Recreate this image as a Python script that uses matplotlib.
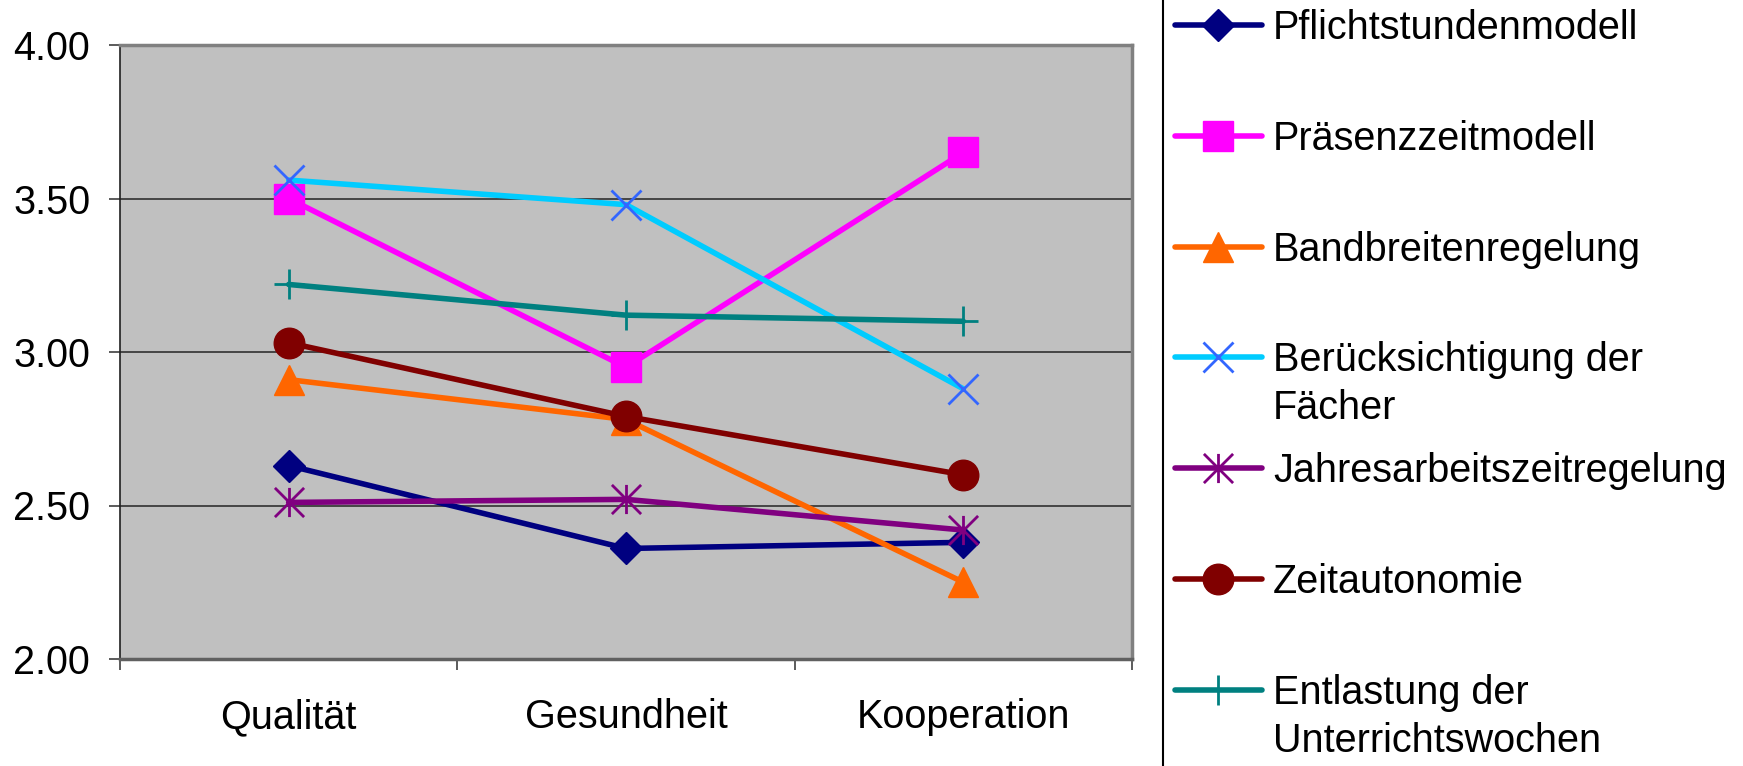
import matplotlib.pyplot as plt, numpy as np
from matplotlib.lines import Line2D
from matplotlib.path import Path
from matplotlib.patches import Rectangle

categories = ["Qualität", "Gesundheit", "Kooperation"]
series_names = ["Pflichtstundenmodell", "Präsenzzeitmodell", "Bandbreitenregelung",
                "Berücksichtigung der\nFächer", "Jahresarbeitszeitregelung",
                "Zeitautonomie", "Entlastung der\nUnterrichtswochen"]
pflicht = [2.63, 2.36, 2.38]
praesenz = [3.50, 2.95, 3.65]
bandbreiten = [2.91, 2.78, 2.25]
faecher = [3.56, 3.48, 2.88]
jahres = [2.51, 2.52, 2.42]
zeitautonomie = [3.03, 2.79, 2.60]
entlastung = [3.22, 3.12, 3.10]
yticks = [2.0, 2.5, 3.0, 3.5, 4.0]

# asterisk marker like the spreadsheet one (x plus vertical bar)
asterisk = Path([(0, -1), (0, 1), (-1, -1), (1, 1), (-1, 1), (1, -1)],
                [Path.MOVETO, Path.LINETO, Path.MOVETO, Path.LINETO, Path.MOVETO, Path.LINETO])

styles = [
    dict(color='#000080', marker='D', ms=16, mfc='#000080', mec='#000080', mew=1),
    dict(color='#FF00FF', marker='s', ms=21, mfc='#FF00FF', mec='#FF00FF', mew=1),
    dict(color='#FF6600', marker='^', ms=22, mfc='#FF6600', mec='#FF6600', mew=1),
    dict(color='#00CCFF', marker='x', ms=21, mfc='none', mec='#3366FF', mew=2),
    dict(color='#800080', marker=asterisk, ms=21, mfc='none', mec='#800080', mew=2),
    dict(color='#800000', marker='o', ms=22, mfc='#800000', mec='#800000', mew=1),
    dict(color='#008080', marker='+', ms=22, mfc='none', mec='#008080', mew=2),
]
data = [pflicht, praesenz, bandbreiten, faecher, jahres, zeitautonomie, entlastung]

W, H = 1743, 766
fig = plt.figure(figsize=(W / 100, H / 100), dpi=100)
plt.rcParams['font.family'] = ['Liberation Sans', 'DejaVu Sans']
fs = 28.5
lw = 4.0
ax = fig.add_axes([120 / W, 1 - 659 / H, (1132 - 120) / W, (659 - 45) / H])
ax.set_facecolor('#C0C0C0')

x = np.arange(len(categories))
for vals, st in zip(data, styles):
    ax.plot(x, vals, lw=lw, solid_capstyle='round', **st)

ax.set_xlim(-0.5, 2.5)
ax.set_ylim(2.0, 4.0)
ax.set_yticks(yticks)
ax.set_yticklabels(["%.2f" % v for v in yticks], fontsize=fs)
ax.yaxis.grid(True, color='#303030', lw=1.2)
ax.set_axisbelow(True)
ax.tick_params(axis='y', length=8, width=1.2, pad=13.5, color='#404040')
ax.set_xticks(x)
ax.set_xticklabels(categories, fontsize=fs)
ax.set_xticks(np.arange(-0.5, 3, 1), minor=True)
ax.tick_params(axis='x', which='major', length=0, pad=28)
ax.tick_params(axis='x', which='minor', length=8, width=1.2, color='#404040')
for s in ['top', 'right']:
    ax.spines[s].set_color('#808080')
    ax.spines[s].set_linewidth(2.5)
ax.spines['left'].set_color('#202020')
ax.spines['left'].set_linewidth(1.2)
ax.spines['bottom'].set_color('#606060')
ax.spines['bottom'].set_linewidth(2.5)

# legend box (extends past the figure edges, only the left border shows)
fig.patches.append(Rectangle((1163 / W, -0.05), 1.0, 1.1, transform=fig.transFigure,
                             fill=False, ec='black', lw=1.5))
handle_y = [25, 136, 247, 357, 468, 579, 690]
for name, st, hy in zip(series_names, styles, handle_y):
    yf = 1 - hy / H
    fig.add_artist(Line2D([1175 / W, 1262 / W], [yf, yf], color=st['color'], lw=lw,
                          solid_capstyle='round', transform=fig.transFigure))
    mst = {k: v for k, v in st.items() if k != 'color'}
    fig.add_artist(Line2D([1218 / W], [yf], ls='none', transform=fig.transFigure, **mst))
    for i, line in enumerate(name.split("\n")):
        fig.text(1273 / W, 1 - (hy + 14 + 48 * i) / H, line, fontsize=fs,
                 va='baseline', ha='left')

fig.savefig("out.png", dpi=100)
